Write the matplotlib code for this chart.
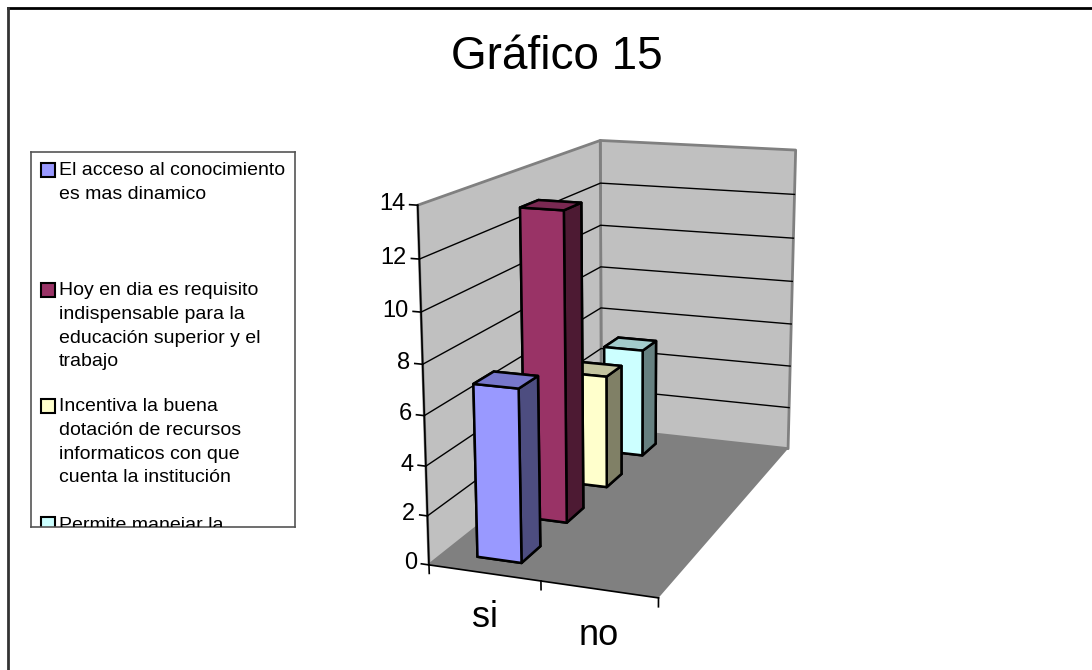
import numpy as np
import matplotlib
matplotlib.use("Agg")
import matplotlib.pyplot as plt
from matplotlib.lines import Line2D
from matplotlib.patches import Rectangle
from mpl_toolkits.mplot3d.art3d import Poly3DCollection

# ---- data -------------------------------------------------------------
title = "Gráfico 15"
categories = ["si", "no"]
series_names = [
    "El acceso al conocimiento\nes mas dinamico",
    "Hoy en dia es requisito\nindispensable para la\neducación superior y el\ntrabajo",
    "Incentiva la buena\ndotación de recursos\ninformaticos con que\ncuenta la institución",
    "Permite manejar la\ninformación",
]
values_si = [7, 13, 5, 5]
values_no = [0, 0, 0, 0]
z_ticks = [0, 2, 4, 6, 8, 10, 12, 14]

# ---- styling ----------------------------------------------------------
FONT = "Liberation Sans"
front_colors = ["#9999FF", "#993366", "#FFFFCC", "#CCFFFF"]
top_colors = ["#7777CC", "#7A2952", "#C4C4A0", "#A3CCCC"]
side_colors = ["#4D4D80", "#4D1A33", "#808066", "#668080"]
WALL = "#C0C0C0"
FLOOR = "#808080"
EDGE = "#808080"

fig = plt.figure(figsize=(10.92, 6.70), dpi=100)
fig.patch.set_facecolor("white")

W, H = 1092, 670


def fx(px):
    return px / W


def fy(py):
    return 1 - py / H


# outer frame (top and left edges)
fig.add_artist(Line2D([fx(8), fx(1092)], [fy(8), fy(8)], color="black", lw=2))
fig.add_artist(Line2D([fx(8), fx(8)], [fy(8), fy(670)], color="#333333", lw=2))

fig.text(fx(557), fy(57), title, fontsize=33, family=FONT,
         ha="center", va="center")

# ---- 3D chart ---------------------------------------------------------
cx, cy, side = 618, 350, 587
ax = fig.add_axes([fx(cx - side / 2), fy(cy + side / 2), side / W, side / H],
                  projection="3d", computed_zorder=False)
ax.set_facecolor("none")
ax.set_proj_type("persp", focal_length=0.53)
ax.view_init(elev=14.5, azim=-70)
ax.set_box_aspect((2.5, 5.0, 3.75))
ax.set_axis_off()

n_cat = len(categories)
n_ser = len(series_names)
zmax = z_ticks[-1]
ax.set_xlim(0, n_cat)
ax.set_ylim(0, n_ser)
ax.set_zlim(0, zmax)

# walls and floor
left_wall = [(0, 0, 0), (0, n_ser, 0), (0, n_ser, zmax), (0, 0, zmax)]
back_wall = [(0, n_ser, 0), (n_cat, n_ser, 0), (n_cat, n_ser, zmax), (0, n_ser, zmax)]
floor = [(0, 0, 0), (n_cat, 0, 0), (n_cat, n_ser, 0), (0, n_ser, 0)]
ax.add_collection3d(Poly3DCollection([left_wall, back_wall], facecolor=WALL,
                                     edgecolor=EDGE, linewidth=2, zorder=1))
ax.add_collection3d(Poly3DCollection([floor], facecolor=FLOOR,
                                     edgecolor="none", zorder=1.5))

# horizontal gridlines on the walls
for z in z_ticks[1:-1]:
    ax.plot([0, 0, n_cat], [0, n_ser, n_ser], [z, z, z], color="black",
            lw=1, zorder=2)

# axis lines, tick marks and labels
ax.plot([0, 0], [0, 0], [0, zmax], color="black", lw=1.2, zorder=2.5)
ax.plot([0, n_cat], [0, 0], [0, 0], color="black", lw=1.2, zorder=2.5)
for z in z_ticks:
    ax.plot([-0.07, 0], [0, 0], [z, z], color="black", lw=1.2, zorder=2.5)
    ax.text(-0.11, 0, z, str(z), fontsize=17, family=FONT,
            ha="right", va="center", zorder=2.5)
for i in range(n_cat + 1):
    ax.plot([i, i], [0, 0], [0, -0.35], color="black", lw=1.2, zorder=2.5)
for i, cat in enumerate(categories):
    ax.text(i + 0.5, 0, -1.85, cat, fontsize=26, family=FONT,
            ha="center", va="center", zorder=2.5)

# bars: one depth row per series, drawn back to front
bar_w = 0.4
bar_d = 0.4
for s in reversed(range(n_ser)):
    heights = [values_si[s], values_no[s]]
    for c, h in enumerate(heights):
        if h <= 0:
            continue
        face_cols = [side_colors[s], top_colors[s], front_colors[s],
                     front_colors[s], side_colors[s], side_colors[s]]
        ax.bar3d(c + 0.5 - bar_w / 2, s + 0.5 - bar_d / 2, 0,
                 bar_w, bar_d, h, color=face_cols, shade=False,
                 edgecolor="black", linewidth=1.8, zorder=3 + (n_ser - s))

# ---- legend -----------------------------------------------------------
lx0, ly0, lx1, ly1 = 31, 152, 295, 527
lax = fig.add_axes([fx(lx0), fy(ly1), fx(lx1) - fx(lx0), fy(ly0) - fy(ly1)])
lax.set_xlim(lx0, lx1)
lax.set_ylim(ly1, ly0)
lax.set_xticks([])
lax.set_yticks([])
for sp in lax.spines.values():
    sp.set_color("#555555")
    sp.set_linewidth(1.2)

entry_mid = [169.5, 289.5, 405.5, 524]
for s, name in enumerate(series_names):
    mid = entry_mid[s]
    lax.add_patch(Rectangle((41, mid - 7), 14, 14, facecolor=front_colors[s],
                            edgecolor="black", lw=1.5, clip_on=True))
    lax.text(59, mid - 7.5, name, fontsize=14, family=FONT, ha="left",
             va="top", linespacing=1.52, clip_on=True)

fig.savefig("out.png", dpi=100)
